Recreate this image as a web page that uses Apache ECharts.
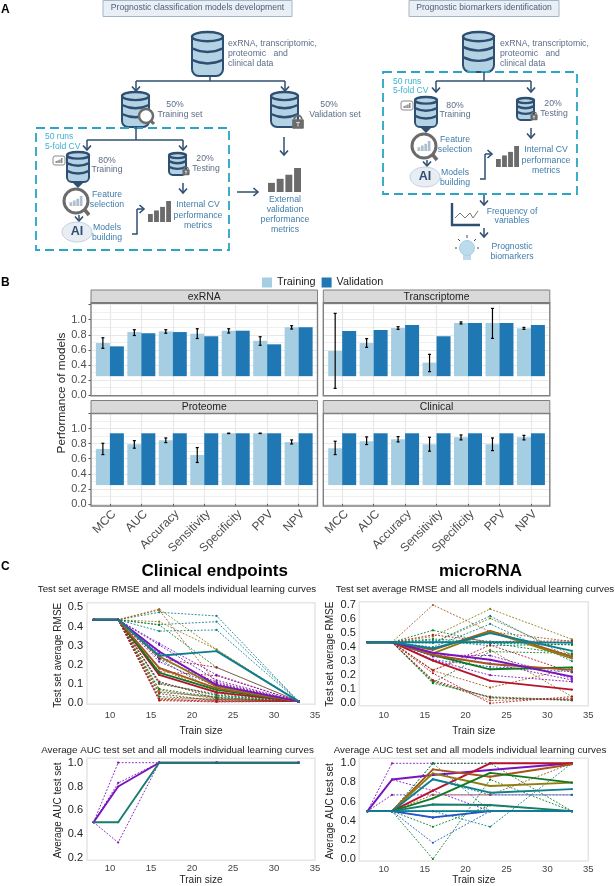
<!DOCTYPE html>
<html><head><meta charset="utf-8">
<style>html,body{margin:0;padding:0;background:#fff}#c{width:615px;height:886px}</style>
<script src="https://cdn.jsdelivr.net/npm/echarts@6/dist/echarts.min.js"></script>
</head><body><div id="c"></div>
<script>
// ---------- Panel B data ----------
const metrics = ['MCC','AUC','Accuracy','Sensitivity','Specificity','PPV','NPV'];
const barBase = 0.25;
const exrnaTrain = [0.69,0.836,0.845,0.814,0.854,0.72,0.90];
const exrnaValid = [0.646,0.82,0.836,0.78,0.854,0.673,0.90];
const exrnaErr = [[0.62,0.76],[0.79,0.867],[0.82,0.867],[0.75,0.88],[0.823,0.88],[0.66,0.774],[0.876,0.92]];
const transTrain = [0.584,0.69,0.889,0.43,0.956,0.956,0.885];
const transValid = [0.85,0.863,0.93,0.78,0.956,0.956,0.93];
const transErr = [[0.088,1.084],[0.633,0.748],[0.872,0.907],[0.31,0.54],[0.943,0.97],[0.752,1.15],[0.872,0.898]];
const protTrain = [0.73,0.792,0.845,0.65,0.938,0.938,0.82];
const protValid = [0.938,0.938,0.938,0.938,0.938,0.938,0.938];
const protErr = [[0.655,0.805],[0.74,0.84],[0.814,0.876],[0.55,0.748],[0.934,0.94],[0.934,0.94],[0.796,0.85]];
const clinTrain = [0.739,0.832,0.858,0.792,0.885,0.792,0.885];
const clinValid = [0.938,0.938,0.938,0.938,0.938,0.938,0.938];
const clinErr = [[0.655,0.832],[0.788,0.89],[0.823,0.894],[0.70,0.885],[0.85,0.916],[0.708,0.876],[0.85,0.91]];

// ---------- Panel C data ----------
const trainSizes = [8,11,16,23,33];
const xTickLabels = [10,15,20,25,30,35];
// Clinical RMSE: solid curves
const crRed=[.435,.435,.148,.057,.01], crGreen=[.435,.435,.16,.07,.01], crBrown=[.435,.435,.185,.078,.01],
      crOlive=[.435,.435,.245,.087,.01], crPurple=[.435,.435,.27,.095,.01], crTeal=[.435,.435,.248,.272,.01];
// Clinical RMSE: dashed curves (x=16, 23, 33)
const crDashTeal=[[.474,.455,.01],[.376,.382,.01],[.41,.425,.01],[.057,.035,.01],[.11,.04,.01]];
const crDashOlive=[[.491,.28,.01],[.425,.28,.01],[.026,.02,.01],[.06,.03,.01]];
const crDashBrown=[[.486,.104,.01],[.18,.06,.01],[.07,.022,.01],[.017,.015,.01],[.10,.05,.01]];
const crDashGreen=[[.408,.187,.01],[.104,.043,.01],[.035,.02,.01],[.23,.06,.01],[.075,.03,.01]];
const crDashRed=[[.234,.187,.01],[.165,.144,.01],[.113,.026,.01],[.022,.009,.01],[.014,.007,.01],[.05,.012,.01]];
const crDashPurple=[[.312,.148,.01],[.304,.12,.01],[.234,.11,.01],[.217,.087,.01],[.26,.10,.01]];
// microRNA RMSE: solid curves
const mrRed=[.435,.435,.304,.16,.097], mrGreen=[.435,.435,.344,.242,.256], mrBrownA=[.435,.435,.38,.515,.333],
      mrBrownB=[.435,.435,.344,.28,.238], mrOlive=[.435,.435,.356,.51,.32], mrPurple=[.435,.435,.36,.31,.19],
      mrTealA=[.435,.435,.39,.5,.373], mrTealB=[.435,.435,.435,.435,.432];
// microRNA RMSE: dashed curves
const mrDashBrown=[[.70,.51,.44],[.233,.112,.25],[.16,.02,.036]];
const mrDashOlive=[[.475,.672,.456],[.43,.605,.345],[.238,.38,.048]];
const mrDashTeal=[[.43,.622,.32],[.40,.565,.30],[.45,.41,.42]];
const mrDashGreen=[[.52,.43,.345],[.458,.435,.43],[.435,.428,.416],[.147,.368,.356],[.154,.04,.02],[.143,.047,.024]];
const mrDashRed=[[.487,.44,.444],[.233,.415,.22],[.166,.04,.024],[.214,.0,.048]];
const mrDashPurple=[[.344,.34,.178],[.333,.285,.166],[.31,.2,.154]];
const mrDashBlue=[[.31,.26,.225]];
// Clinical AUC
const caPurple=[.5,.8,1,1,1], caTeal=[.5,.5,1,1,1];
const caDashPurple=[[.5,1,1,1,1],[.5,.83,1,1,1],[.5,.33,1,1,1]];
// microRNA AUC: solid
const maPurple=[.5,.83,.878,.93,1], maRed=[.5,.5,.714,1,1], maBrown=[.5,.5,.937,.86,.99], maOlive=[.5,.5,.895,.763,.798],
      maTealA=[.5,.5,.833,.693,.73], maGreen=[.5,.5,.634,.9,.798], maTealB=[.5,.5,.57,.565,.5], maBlue=[.5,.5,.435,.5,.5], maTealC=[.5,.5,.5,.5,.5];
// microRNA AUC: dashed
const maDashPurple=[[.5,1,1,1,1],[.5,.67,.67,.67,.67],[.5,.83,.714,.5,.5]];
const maDashTeal=[[.5,.5,1,.5,.5],[.5,.5,.5,.5,.5],[.5,.5,.5,.337,1],[.5,.5,.833,.67,.67]];
const maDashGreen=[[.5,.5,0,.83,.5],[.5,.5,.337,.56,.5],[.5,.5,1,1,.5]];
const maDashBlue=[[.5,.5,.17,.5,.5],[.5,.5,.43,.5,.5]];
const maDashBrown=[[.5,.5,.67,.67,1]];

const colRed='#b5142e', colGreen='#0f7a22', colBrown='#a5561c', colOlive='#8f7d12', colPurple='#7a12bd', colTeal='#0e7f8e', colTealG='#177d6c', colBlue='#1f55c9';
const sansFont='"Liberation Sans", Arial, sans-serif';

const grids=[],xAxes=[],yAxes=[],series=[],gfx=[];

// ---------- graphic helpers ----------
const NAVY='#2f4f72', LB='#b3d3e4', GREY='#6b6b6b', BLUET='#3f7cab', SLATE='#5d6e88', CY='#2aa5c5';
let curZ=30;
function T(text,x,y,size,fill,align,weight){gfx.push({type:'text',silent:true,z:50,style:{text,x,y,fill:fill,font:(weight||'normal')+' '+size+'px '+sansFont,textAlign:align||'center',textVerticalAlign:'middle'}});}
function L(pts,color,w,dash){gfx.push({type:'polyline',silent:true,z:curZ,shape:{points:pts},style:{stroke:color,lineWidth:w,fill:null,lineDash:dash||null}});}
function R(x,y,w,h,fill,stroke,lw,r){gfx.push({type:'rect',silent:true,z:curZ,shape:{x,y,width:w,height:h,r:r||0},style:{fill:fill,stroke:stroke,lineWidth:lw||0}});}
function arrowD(x,y1,y2){L([[x,y1],[x,y2]],NAVY,1.5);L([[x-4,y2-4.5],[x,y2],[x+4,y2-4.5]],NAVY,1.6);}
function arrowR(x1,x2,y){L([[x1,y],[x2,y]],NAVY,1.5);L([[x2-4.5,y-4],[x2,y],[x2-4.5,y+4]],NAVY,1.6);}
function db(x,y,w,h){
  const ry=w*.15;
  R(x,y+ry,w,h-ry,LB,NAVY,2,[0,0,w*.22,w*.22]);
  [1/3,2/3].forEach(f=>{const yy=y+ry+(h-2*ry)*f;gfx.push({type:'bezierCurve',silent:true,z:31,shape:{x1:x,y1:yy,x2:x+w,y2:yy,cpx1:x+w/2,cpy1:yy+ry*1.6},style:{stroke:NAVY,lineWidth:2.4,fill:null}});});
  gfx.push({type:'ellipse',silent:true,z:31,shape:{cx:x+w/2,cy:y+ry,rx:w/2,ry:ry},style:{fill:LB,stroke:NAVY,lineWidth:2.4}});
}
function lock(cx,cy,s){
  curZ=33;
  gfx.push({type:'arc',silent:true,z:33,shape:{cx,cy:cy-s*.3,r:s*.42,startAngle:Math.PI,endAngle:0,clockwise:true},style:{stroke:GREY,lineWidth:s*.2,fill:null}});
  R(cx-s*.65,cy-s*.3,s*1.3,s*1.05,GREY,null,0,1);
  L([[cx-s*.2,cy+.05*s],[cx+s*.2,cy+.05*s]],'#ddd',1);L([[cx,cy+.05*s],[cx,cy+.5*s]],'#ddd',1);
  curZ=30;
}
function miniBars(x,y,w,h,color,z){
  curZ=z||30;
  const bw=w*.21,hs=[.38,.55,.72,1];
  hs.forEach((f,i)=>R(x+i*(w-bw)/3,y+h*(1-f),bw,h*f,color,null,0));
  curZ=30;
}
function glass(cx,cy,r,lw,tx,ty){
  curZ=32;
  L([[cx+r*.7,cy+r*.7],[tx,ty]],GREY,lw*1.2);
  curZ=30;
  gfx.push({type:'circle',silent:true,z:33,shape:{cx,cy,r},style:{fill:'#fff',stroke:GREY,lineWidth:lw}});
}
function ai(cx,cy){
  gfx.push({type:'ellipse',silent:true,z:31,shape:{cx,cy,rx:15,ry:10},style:{fill:'#e8edf3',stroke:'#c6d2df',lineWidth:1}});
  T('AI',cx,cy,12.5,NAVY,'center','bold');
}
function chat(cx,cy){curZ=33;R(cx-6,cy-5,12,9,'#fff','#8a8a8a',1,2);curZ=30;miniBars(cx-3.5,cy-3,7,5,'#8a8a8a',34);}
function chevron(cx,y){gfx.push({type:'polygon',silent:true,z:30,shape:{points:[[cx-6,y-5],[cx+6,y-5],[cx,y+1]]},style:{fill:NAVY}});}

function cvBlock(o){ // inner cross-validation flow
  db(o.x,o.y,22,30);chevron(o.x+11,o.y+35);chat(o.x-8,o.y+9);
  T('80%',o.x+40,o.y+9,8.7,SLATE);T('Training',o.x+40,o.y+18,8.7,SLATE);
  glass(o.x+9,o.y+49,12,3,o.x+22,o.y+63);miniBars(o.x+2.5,o.y+44,13,10,'#aebfce',34);
  T('Feature',o.x+40,o.y+43,8.7,BLUET);T('selection',o.x+40,o.y+53,8.7,BLUET);
  arrowD(o.x+12,o.y+63,o.y+69);ai(o.x+10,o.y+80);
  T('Models',o.x+40,o.y+76,8.7,BLUET);T('building',o.x+40,o.y+86,8.7,BLUET);
  L([[o.x+65,o.y+82],[o.x+70,o.y+82],[o.x+70,o.y+57]],NAVY,1.5);arrowR(o.x+70,o.x+77,o.y+57);
  miniBars(o.x+81,o.y+49,23,21,GREY);
  T('Internal CV',o.x+131,o.y+53,8.7,BLUET);T('performance',o.x+131,o.y+64,8.7,BLUET);T('metrics',o.x+131,o.y+74,8.7,BLUET);
  db(o.x+102,o.y+1,17,22);lock(o.x+119,o.y+19,5.5);
  T('20%',o.x+138,o.y+7,8.7,SLATE);T('Testing',o.x+139,o.y+17,8.7,SLATE);
  arrowD(o.x+116,o.y+31,o.y+41);
}

// schematic A
T('A',1,10,12,'#000','left','bold');T('B',1,283,12,'#000','left','bold');T('C',1,567,12,'#000','left','bold');
R(103,0.5,189,16,'#e9eff5','#a4b6c9',1);T('Prognostic classification models development',197.5,7.5,8.6,'#4f6078');
R(409,0.5,150,16,'#e9eff5','#a4b6c9',1);T('Prognostic biomarkers identification',484,7.5,8.6,'#4f6078');
// left flow
db(192,32,31,44);
['exRNA, transcriptomic,','proteomic   and','clinical data'].forEach((s,i)=>T(s,228,44+i*10,8.7,SLATE,'left'));
L([[210,76],[210,81]],NAVY,1.5);L([[136,81],[285,81]],NAVY,1.5);arrowD(136,81,91);arrowD(285,81,91);
db(122,92,27,35);glass(146,116,7,2.5,154,124);
T('50%',175,105,8.7,SLATE);T('Training set',180,115,8.7,SLATE);
db(271,92,27,35);lock(298,122,9);
T('50%',329,105,8.7,SLATE);T('Validation set',335,115,8.7,SLATE);
arrowD(284,137,155);miniBars(268,168,33,24,GREY);
['External','validation','performance','metrics'].forEach((s,i)=>T(s,285,200+i*10,8.7,BLUET));
arrowR(237,258,192);
R(36,128,193,122,null,CY,1.8);gfx[gfx.length-1].style.lineDash=[9,5];
T('50 runs',45,137,8.5,'#3cb2cf','left');T('5-fold CV',45,147,8.5,'#3cb2cf','left');
L([[136,127],[136,140]],NAVY,1.5);L([[87,140],[183,140]],NAVY,1.5);arrowD(87,140,150);arrowD(183,140,150);
cvBlock({x:67,y:152});
// right flow
db(463,32,31,40);
['exRNA, transcriptomic,','proteomic   and','clinical data'].forEach((s,i)=>T(s,500,44+i*10,8.7,SLATE,'left'));
R(383,72,194,122,null,CY,1.8);gfx[gfx.length-1].style.lineDash=[9,5];
L([[484,72],[484,81]],NAVY,1.5);L([[436,81],[531,81]],NAVY,1.5);arrowD(436,81,92);arrowD(531,81,92);
T('50 runs',393,82,8.5,'#3cb2cf','left');T('5-fold CV',393,91,8.5,'#3cb2cf','left');
cvBlock({x:415,y:97});
arrowD(484,195,205);
L([[452,203],[452,225],[480,225]],NAVY,2.4);
L([[455,218],[460,213],[465,218],[470,213],[473,218],[478,211]],'#777',1);
T('Frequency of',512,212,8.7,BLUET);T('variables',512,221,8.7,BLUET);
arrowD(484,228,237);
gfx.push({type:'circle',silent:true,z:31,shape:{cx:467,cy:248,r:7.5},style:{fill:'#bcdcee',stroke:'#a9cfe3',lineWidth:1}});
R(463,254,8,6,'#bcdcee',null,0);
L([[455,248],[457,248]],'#444',1);L([[477,248],[479,248]],'#444',1);L([[458,239],[460,241]],'#444',1);L([[476,239],[474,241]],'#444',1);L([[467,235],[467,238]],'#444',1);
T('Prognostic',512,247,8.7,BLUET);T('biomarkers',512,257,8.7,BLUET);

// ---------- Panel B ----------
const panels=[
 {name:'exRNA',tr:exrnaTrain,va:exrnaValid,er:exrnaErr,x:91,top:303,zero:395,bot:395.7,labels:false,yl:true},
 {name:'Transcriptome',tr:transTrain,va:transValid,er:transErr,x:323.3,top:303,zero:395,bot:395.7,labels:false,yl:false},
 {name:'Proteome',tr:protTrain,va:protValid,er:protErr,x:91,top:413.5,zero:503.9,bot:506,labels:true,yl:true},
 {name:'Clinical',tr:clinTrain,va:clinValid,er:clinErr,x:323.3,top:413.5,zero:503.9,bot:506,labels:true,yl:false}
];
const PW=226.5,UNIT=75.3;
panels.forEach((p,i)=>{
  const gTop=p.zero-1.2*UNIT,gH=1.2*UNIT;
  grids.push({left:p.x,width:PW,top:gTop,height:gH});
  xAxes.push({gridIndex:grids.length-1,type:'value',min:0,max:1,show:false});
  yAxes.push({gridIndex:grids.length-1,type:'value',min:0,max:1.2,interval:.2,
    axisLine:{show:false},axisTick:{show:p.yl,length:2.5,lineStyle:{color:'#555'}},
    axisLabel:{show:p.yl,margin:4.5,fontSize:11,color:'#4d4d4d',fontFamily:sansFont,formatter:v=>v>1.01?'':v.toFixed(1)},
    splitLine:{show:true,lineStyle:{color:'#e8e8e8',width:1.2}},
    minorTick:{show:false,splitNumber:2},minorSplitLine:{show:true,lineStyle:{color:'#f0f0f0',width:1}}});
  const gi=grids.length;
  const U=PW/7.2;
  grids.push({left:p.x+.1*U,width:7*U,top:gTop,height:gH});
  xAxes.push({gridIndex:gi,type:'category',data:metrics,offset:p.bot-p.zero,axisLine:{show:false},
    axisTick:{show:p.labels,alignWithLabel:true,length:2.5,lineStyle:{color:'#555'}},
    axisLabel:{show:p.labels,rotate:45,interval:0,fontSize:12,color:'#4d4d4d',margin:2,verticalAlign:'top',fontFamily:sansFont},
    splitLine:{show:true,alignWithLabel:true,interval:0,lineStyle:{color:'#e8e8e8',width:1.2}}});
  yAxes.push({gridIndex:gi,type:'value',min:0,max:1.2,show:false,splitLine:{show:false}});
  const base=metrics.map(()=>barBase);
  [['Training',p.tr,'#a6cee3'],['Validation',p.va,'#1f78b4']].forEach(([nm,vals,c])=>{
    const st=nm+i;
    series.push({type:'bar',name:nm+' base',stack:st,xAxisIndex:gi,yAxisIndex:gi,barWidth:14,barGap:0,data:base,itemStyle:{color:'rgba(0,0,0,0)'},silent:true,animation:false});
    series.push({type:'bar',name:nm,stack:st,xAxisIndex:gi,yAxisIndex:gi,barWidth:14,barGap:0,data:vals.map(v=>+(v-barBase).toFixed(3)),itemStyle:{color:c},silent:true,animation:false});
  });
  series.push({type:'custom',name:p.name+' error',xAxisIndex:gi,yAxisIndex:gi,z:10,silent:true,clip:false,animation:false,
    data:p.er.map((e,k)=>[k,e[0],e[1]]),
    encode:{x:0,y:[1,2]},
    renderItem:(params,api)=>{
      const lo=api.coord([api.value(0),api.value(1)]),hi=api.coord([api.value(0),api.value(2)]);
      const x=lo[0]-7,st={stroke:'#000',lineWidth:1.2},h=1.5;
      return {type:'group',children:[
        {type:'line',shape:{x1:x,y1:lo[1],x2:x,y2:hi[1]},style:st},
        {type:'line',shape:{x1:x-h,y1:lo[1],x2:x+h,y2:lo[1]},style:st},
        {type:'line',shape:{x1:x-h,y1:hi[1],x2:x+h,y2:hi[1]},style:st}]};
    }});
  const sTop=p.top-13;
  R(p.x,sTop,PW,13,'#d9d9d9','#7f7f7f',1);
  L([[p.x,p.top],[p.x+PW,p.top]],'#333',1.2);
  R(p.x,p.top,PW,p.bot-p.top,null,'#7f7f7f',1.4);
  T(p.name,p.x+PW/2,sTop+6.8,10.4,'#222');
});
gfx.push({type:'text',silent:true,z:50,x:62,y:393,rotation:Math.PI/2,style:{text:'Performance of models',fill:'#222',font:'11.7px '+sansFont,textAlign:'center',textVerticalAlign:'middle'}});

// ---------- Panel C ----------
function lineChart(cfg){
  const gi=grids.length;
  const yTop=cfg.yTop,yBot=cfg.yBot;
  grids.push({left:cfg.left,width:cfg.right-cfg.left,top:yTop,height:yBot-yTop});
  curZ=1;R(cfg.left,cfg.fTop,cfg.right-cfg.left,cfg.fBot-cfg.fTop,null,'#e6e6e6',1.6);curZ=30;
  xAxes.push({gridIndex:gi,type:'value',min:cfg.xmin,max:35,axisLine:{show:false},splitLine:{show:false},
    axisTick:{show:false,customValues:xTickLabels},
    axisLabel:{customValues:xTickLabels,margin:cfg.xMargin,fontSize:9.5,color:'#444',fontFamily:sansFont,showMinLabel:true,showMaxLabel:true},
    name:'Train size',nameLocation:'middle',nameGap:cfg.xNameGap,nameTextStyle:{fontSize:10,color:'#222',fontFamily:sansFont}});
  yAxes.push({gridIndex:gi,type:'value',min:cfg.ymin,max:cfg.ymax,interval:cfg.yint,axisLine:{show:false},axisTick:{show:false},splitLine:{show:false},
    axisLabel:{margin:cfg.yMargin,fontSize:11,color:'#222',fontFamily:sansFont,formatter:v=>v.toFixed(1)},
    name:cfg.yName,nameLocation:'middle',nameGap:cfg.yNameGap,nameTextStyle:{fontSize:10,color:'#222',fontFamily:sansFont}});
  const pts=(vals)=>{const v=vals.length===3?[cfg.flat,cfg.flat].concat(vals):vals;return trainSizes.map((x,i)=>[x,v[i]]);};
  cfg.dash.forEach(([c,list])=>list.forEach(v=>series.push({type:'line',xAxisIndex:gi,yAxisIndex:gi,data:pts(v),clip:false,silent:true,animation:false,z:3,
    symbol:'circle',symbolSize:2.2,itemStyle:{color:c},lineStyle:{color:c,width:.9,type:[1.8,1.6]}})));
  cfg.solid.forEach(([c,v])=>series.push({type:'line',xAxisIndex:gi,yAxisIndex:gi,data:pts(v),clip:false,silent:true,animation:false,z:4,
    symbol:'circle',symbolSize:2.2,itemStyle:{color:c},lineStyle:{color:c,width:1.9}}));
}
lineChart({left:87,right:315,fTop:602.7,fBot:704.3,yTop:607.3,yBot:703.3,xmin:7.2,ymin:0,ymax:.5,yint:.1,flat:.435,
  xMargin:7,xNameGap:23,yMargin:4,yNameGap:24,yName:'Test set average RMSE',
  dash:[[colTeal,crDashTeal],[colOlive,crDashOlive],[colBrown,crDashBrown],[colGreen,crDashGreen],[colRed,crDashRed],[colPurple,crDashPurple]],
  solid:[[colRed,crRed],[colGreen,crGreen],[colBrown,crBrown],[colOlive,crOlive],[colPurple,crPurple],[colTeal,crTeal]]});
lineChart({left:359.3,right:588.3,fTop:601.7,fBot:705.7,yTop:605,yBot:703.3,xmin:7,ymin:0,ymax:.7,yint:.1,flat:.435,
  xMargin:7,xNameGap:23,yMargin:3.5,yNameGap:24,yName:'Test set average RMSE',
  dash:[[colBrown,mrDashBrown],[colOlive,mrDashOlive],[colTeal,mrDashTeal],[colGreen,mrDashGreen],[colRed,mrDashRed],[colPurple,mrDashPurple],[colBlue,mrDashBlue]],
  solid:[[colRed,mrRed],[colGreen,mrGreen],[colBrown,mrBrownA],[colBrown,mrBrownB],[colOlive,mrOlive],[colPurple,mrPurple],[colTeal,mrTealA],[colTeal,mrTealB]]});
lineChart({left:87,right:315,fTop:758.3,fBot:860.3,yTop:762.7,yBot:858.3,xmin:7.2,ymin:.2,ymax:1,yint:.2,
  xMargin:5,xNameGap:17,yMargin:4,yNameGap:24,yName:'Average AUC test set',
  dash:[[colPurple,caDashPurple]],
  solid:[[colPurple,caPurple],[colTealG,caTeal]]});
lineChart({left:359.3,right:588.3,fTop:758.3,fBot:861,yTop:763.3,yBot:859,xmin:7,ymin:0,ymax:1,yint:.2,
  xMargin:5,xNameGap:16,yMargin:3.5,yNameGap:24,yName:'Average AUC test set',
  dash:[[colPurple,maDashPurple],[colTeal,maDashTeal],[colGreen,maDashGreen],[colBlue,maDashBlue],[colBrown,maDashBrown]],
  solid:[[colPurple,maPurple],[colRed,maRed],[colBrown,maBrown],[colOlive,maOlive],[colTeal,maTealA],[colGreen,maGreen],[colTealG,maTealB],[colBlue,maBlue],[colTeal,maTealC]]});
T('Clinical endpoints',214.7,571.5,17,'#000','center','bold');
T('microRNA',480.5,571.5,17,'#000','center','bold');
T('Test set average RMSE and all models individual learning curves',177,589,9.7,'#222');
T('Test set average RMSE and all models individual learning curves',475,589,9.7,'#222');
T('Average AUC test set and all models individual learning curves',177.5,750.3,9.8,'#222');
T('Average AUC test set and all models individual learning curves',470,750.3,9.8,'#222');

const chart=echarts.init(document.getElementById('c'),null,{renderer:'canvas'});
chart.setOption({animation:false,backgroundColor:'#fff',
  legend:{left:262,top:277,padding:0,data:['Training','Validation'],icon:'rect',itemWidth:10,itemHeight:10,itemGap:6,selectedMode:false,
    textStyle:{fontSize:10.8,color:'#222',fontFamily:sansFont}},
  grid:grids,xAxis:xAxes,yAxis:yAxes,series:series,graphic:{elements:gfx}});
</script></body></html>
